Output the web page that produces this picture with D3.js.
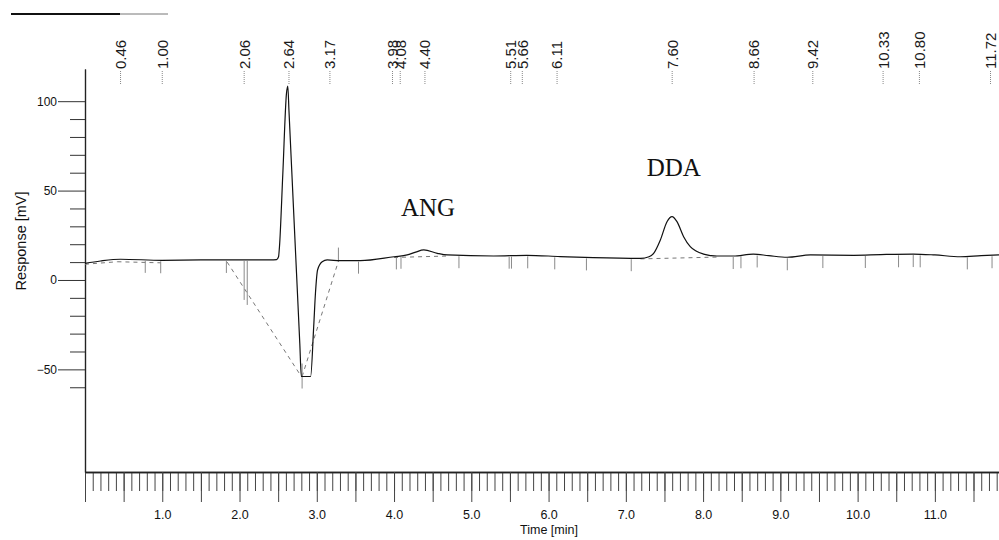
<!DOCTYPE html>
<html>
<head>
<meta charset="utf-8">
<script src="https://cdn.jsdelivr.net/npm/d3@7/dist/d3.min.js"></script>
<style>
  body { margin: 0; background: #fff; }
  svg { display: block; font-family: "Liberation Sans", Arial, sans-serif; }
</style>
</head>
<body>
<svg id="chart" width="999" height="540"></svg>
<script>
// chromatogram trace, time [min] / response [mV]
const traceTimes = [0.00, 0.20, 0.46, 1.00, 1.50, 2.00, 2.40, 2.48, 2.505, 2.517, 2.56, 2.608,
  2.625, 2.64, 2.70, 2.78, 2.80, 2.92, 2.96, 2.983, 3.01, 3.07, 3.135, 3.30, 3.565, 4.00,
  4.17, 4.28, 4.385, 4.56, 4.69, 5.29, 5.72, 6.15, 6.58, 7.19, 7.30, 7.36, 7.447, 7.533,
  7.598, 7.662, 7.748, 7.834, 8.006, 8.18, 8.39, 8.65, 8.85, 9.09, 9.39, 9.95, 10.30,
  10.72, 11.00, 11.33, 11.60, 11.83];
const traceValues = [9.3, 10.6, 11.6, 11.0, 11.2, 11.2, 11.2, 11.4, 13.0, 18.6, 59.0, 104.5,
  108.5, 94.6, 38.8, -35.4, -54.0, -54.0, -26.1, -7.3, 5.6, 10.2, 11.2, 10.8, 10.8, 13.0,
  14.0, 15.6, 16.8, 14.9, 14.0, 13.4, 13.8, 13.1, 12.5, 12.1, 13.0, 14.9, 22.4, 32.6,
  35.4, 32.6, 24.2, 18.6, 14.5, 13.4, 13.4, 14.5, 13.6, 12.7, 14.0, 13.8, 14.2,
  14.5, 14.0, 13.0, 13.6, 14.0];

// integration baselines: [t1, v1, t2, v2]
const baselineSegments = [
  [0.00, 8.8, 0.42, 10.2],
  [0.42, 10.2, 0.98, 9.6],
  [1.84, 10.0, 2.80, -54.0],
  [2.81, -54.0, 3.285, 11.2],
  [4.00, 12.6, 4.69, 13.4],
  [7.19, 11.8, 8.18, 12.8]
];

// retention time labels along the top
const peakLabels = [0.46, 1.00, 2.06, 2.64, 3.17, 3.98, 4.08, 4.40, 5.51, 5.66, 6.11,
  7.60, 8.66, 9.42, 10.33, 10.80, 11.72];

// peak start/end event marks
const markerTimes = [0.78, 0.98, 1.83, 3.54, 4.03, 4.09, 4.84, 5.49, 5.52, 5.73, 6.08,
  6.49, 7.07, 8.39, 8.49, 8.70, 9.09, 9.55, 10.10, 10.53, 10.72, 10.81, 11.42, 11.74];
const longMarkerTimes = [2.06, 2.10];
const troughMarkerTimes = [2.81];
const upMarkerTimes = [3.28];

// axes
const yMajorTicks = [-50, 0, 50, 100];
const yMinorTicks = [-60, -40, -30, -20, -10, 10, 20, 30, 40, 60, 70, 80, 90];
const xLabelTicks = [1, 2, 3, 4, 5, 6, 7, 8, 9, 10, 11];

// compound annotations
const compoundNames = ['ANG', 'DDA'];
const compoundTimes = [4.09, 7.27];
const compoundValues = [36, 58];

const svg = d3.select('#chart');

const x = d3.scaleLinear().domain([0, 11.83]).range([85, 999]);
const y = d3.scaleLinear().domain([-107.4, 118]).range([472, 69]);
const traceAt = d3.scaleLinear().domain(traceTimes).range(traceValues);

// small rule in the top-left corner
svg.append('line')
  .attr('x1', 11).attr('x2', 120).attr('y1', 14).attr('y2', 14)
  .attr('stroke', '#111').attr('stroke-width', 2);
svg.append('line')
  .attr('x1', 120).attr('x2', 168).attr('y1', 14).attr('y2', 14)
  .attr('stroke', '#777').attr('stroke-width', 1);

// x axis: minor every 0.1, long every 0.5
const xMinor = d3.axisBottom(x)
  .tickValues(d3.range(0, 119).map(i => i / 10))
  .tickSize(19).tickSizeOuter(0).tickFormat('');
const xMajor = d3.axisBottom(x)
  .tickValues(d3.range(0, 24).map(i => i / 2))
  .tickSize(30).tickSizeOuter(0).tickPadding(8)
  .tickFormat(d => xLabelTicks.includes(d) ? d3.format('.1f')(d) : '');

const gx = svg.append('g').attr('transform', `translate(0,${y(-107.4)})`);
gx.call(xMinor);
gx.append('g').call(xMajor);
gx.selectAll('path.domain').attr('stroke', '#222').attr('stroke-width', 1.3);
gx.selectAll('.tick line').attr('stroke', '#444');
gx.selectAll('text').attr('font-size', 12.5).attr('fill', '#111')
  .attr('font-family', '"Liberation Sans", Arial, sans-serif');

svg.append('text')
  .attr('x', 549).attr('y', 534)
  .attr('text-anchor', 'middle').attr('font-size', 12.5).attr('fill', '#111')
  .text('Time [min]');

// y axis
const yMinor = d3.axisLeft(y).tickValues(yMinorTicks)
  .tickSize(15).tickSizeOuter(0).tickFormat('');
const yMajor = d3.axisLeft(y).tickValues(yMajorTicks)
  .tickSize(27).tickSizeOuter(0).tickPadding(1);

const gy = svg.append('g').attr('transform', `translate(${x(0)},0)`);
gy.call(yMinor);
gy.append('g').call(yMajor);
gy.selectAll('path.domain').attr('stroke', '#222').attr('stroke-width', 1.2);
gy.selectAll('.tick line').attr('stroke', '#333');
gy.selectAll('text').attr('font-size', 12).attr('fill', '#111')
  .attr('font-family', '"Liberation Sans", Arial, sans-serif');

svg.append('text')
  .attr('transform', 'translate(21,241) rotate(-90)')
  .attr('text-anchor', 'middle').attr('dy', '0.35em')
  .attr('font-size', 14.5).attr('fill', '#111')
  .text('Response [mV]');

// retention time labels with dotted leaders
const labelBottom = 69;
const lg = svg.append('g');
lg.selectAll('line')
  .data(peakLabels)
  .join('line')
  .attr('x1', d => x(d)).attr('x2', d => x(d))
  .attr('y1', labelBottom + 2).attr('y2', 85)
  .attr('stroke', '#888').attr('stroke-width', 1)
  .attr('stroke-dasharray', '1,1');
lg.selectAll('text')
  .data(peakLabels)
  .join('text')
  .attr('transform', d => `translate(${x(d)},${labelBottom}) rotate(-90)`)
  .attr('dy', '0.36em')
  .attr('font-size', 15).attr('fill', '#1a1a1a')
  .text(d => d3.format('.2f')(d));

// integration baselines
svg.append('g').selectAll('line')
  .data(baselineSegments)
  .join('line')
  .attr('x1', d => x(d[0])).attr('y1', d => y(d[1]))
  .attr('x2', d => x(d[2])).attr('y2', d => y(d[3]))
  .attr('stroke', '#777').attr('stroke-width', 1)
  .attr('stroke-dasharray', '4,4');

// event marks below the trace
const mg = svg.append('g').attr('stroke', '#8a8a8a').attr('stroke-width', 1);
mg.selectAll('.m')
  .data(markerTimes)
  .join('line').attr('class', 'm')
  .attr('x1', d => x(d)).attr('x2', d => x(d))
  .attr('y1', d => y(traceAt(d)) + 1).attr('y2', d => y(traceAt(d)) + 13);
mg.selectAll('.ml')
  .data(longMarkerTimes)
  .join('line').attr('class', 'ml')
  .attr('x1', d => x(d)).attr('x2', d => x(d))
  .attr('y1', d => y(traceAt(d)) + 1).attr('y2', (d, i) => y(traceAt(d)) + 40 + i * 5);
mg.selectAll('.mt')
  .data(troughMarkerTimes)
  .join('line').attr('class', 'mt')
  .attr('x1', d => x(d)).attr('x2', d => x(d))
  .attr('y1', d => y(traceAt(d)) - 13).attr('y2', d => y(traceAt(d)) + 12);
mg.selectAll('.mu')
  .data(upMarkerTimes)
  .join('line').attr('class', 'mu')
  .attr('x1', d => x(d)).attr('x2', d => x(d))
  .attr('y1', d => y(traceAt(d)) - 13).attr('y2', d => y(traceAt(d)));

// the trace itself
const line = d3.line()
  .x(d => x(d[0]))
  .y(d => y(d[1]))
  .curve(d3.curveMonotoneX);

svg.append('path')
  .datum(d3.zip(traceTimes, traceValues))
  .attr('d', line)
  .attr('fill', 'none')
  .attr('stroke', '#111')
  .attr('stroke-width', 1.2)
  .attr('stroke-linejoin', 'round');

// compound names
svg.append('g').selectAll('text')
  .data(compoundNames)
  .join('text')
  .attr('x', (d, i) => x(compoundTimes[i]))
  .attr('y', (d, i) => y(compoundValues[i]))
  .attr('font-family', '"Liberation Serif", "Times New Roman", serif')
  .attr('font-size', 25).attr('fill', '#111')
  .text(d => d);
</script>
</body>
</html>
